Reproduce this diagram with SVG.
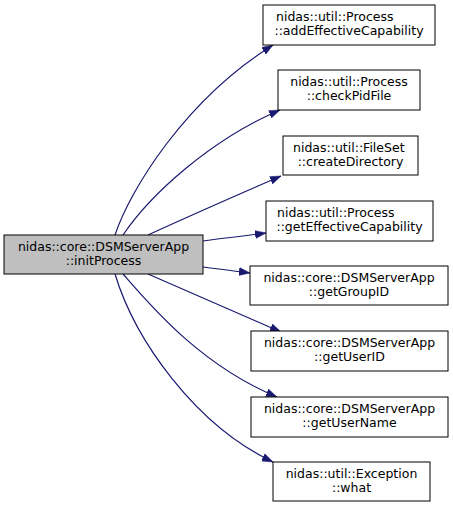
<svg xmlns="http://www.w3.org/2000/svg" width="453" height="508" viewBox="0 0 453 508">
<style>
.n rect{fill:#ffffff;stroke:#000000;stroke-width:1}
.n.main rect{fill:#bfbfbf}
text{font-family:"DejaVu Sans","Liberation Sans",sans-serif;font-size:12.5px;fill:#000000}
.c{text-anchor:middle}
.e path{fill:none;stroke:#191970;stroke-width:1.2}
</style>
<defs>
<marker id="ah" markerUnits="userSpaceOnUse" markerWidth="12" markerHeight="10" refX="11" refY="4" orient="auto" viewBox="0 0 12 8">
<path d="M0,0 L11,4 L0,8 z" fill="#191970" stroke="#191970" stroke-width="0.5"/>
</marker>
</defs>
<rect width="453" height="508" fill="#ffffff"/>
<g id="edges" class="e">
<path marker-end="url(#ah)" d="M115,235 C130,190 185,100 273,45"/>
<path marker-end="url(#ah)" d="M123,235 C150,195 210,140 280,110"/>
<path marker-end="url(#ah)" d="M148,235 C185,218 235,196 281,176"/>
<path marker-end="url(#ah)" d="M203,241 C225,238 245,236 266,233"/>
<path marker-end="url(#ah)" d="M203,267 C220,269 235,271 250,273"/>
<path marker-end="url(#ah)" d="M148,274 C185,290 235,312 281,332"/>
<path marker-end="url(#ah)" d="M123,274 C150,305 200,365 277,397"/>
<path marker-end="url(#ah)" d="M115,274 C135,340 195,425 273,462"/>
</g>
<g id="node-initProcess" class="n main">
<rect x="4" y="235" width="199" height="39"/>
<text class="c" x="103.5" y="251">nidas::core::DSMServerApp</text>
<text class="c" x="103.5" y="265">::initProcess</text>
</g>
<g id="node-addEffectiveCapability" class="n">
<rect x="263" y="5" width="172" height="40"/>
<text x="276" y="21">nidas::util::Process</text>
<text class="c" x="349" y="35">::addEffectiveCapability</text>
</g>
<g id="node-checkPidFile" class="n">
<rect x="278" y="70" width="142" height="40"/>
<text class="c" x="349" y="86">nidas::util::Process</text>
<text class="c" x="349" y="100">::checkPidFile</text>
</g>
<g id="node-createDirectory" class="n">
<rect x="283" y="136" width="135" height="39"/>
<text x="293" y="152">nidas::util::FileSet</text>
<text class="c" x="350.5" y="166">::createDirectory</text>
</g>
<g id="node-getEffectiveCapability" class="n">
<rect x="266" y="201" width="167" height="40"/>
<text x="277" y="217">nidas::util::Process</text>
<text class="c" x="349.5" y="231">::getEffectiveCapability</text>
</g>
<g id="node-getGroupID" class="n">
<rect x="250" y="266" width="198" height="39"/>
<text class="c" x="349" y="282">nidas::core::DSMServerApp</text>
<text class="c" x="349" y="296">::getGroupID</text>
</g>
<g id="node-getUserID" class="n">
<rect x="251" y="331" width="197" height="40"/>
<text class="c" x="349.5" y="347">nidas::core::DSMServerApp</text>
<text class="c" x="349.5" y="361">::getUserID</text>
</g>
<g id="node-getUserName" class="n">
<rect x="251" y="397" width="197" height="40"/>
<text class="c" x="349.5" y="413">nidas::core::DSMServerApp</text>
<text class="c" x="349.5" y="427">::getUserName</text>
</g>
<g id="node-what" class="n">
<rect x="273" y="462" width="157" height="39"/>
<text class="c" x="351.5" y="478">nidas::util::Exception</text>
<text class="c" x="351.5" y="492">::what</text>
</g>
</svg>
